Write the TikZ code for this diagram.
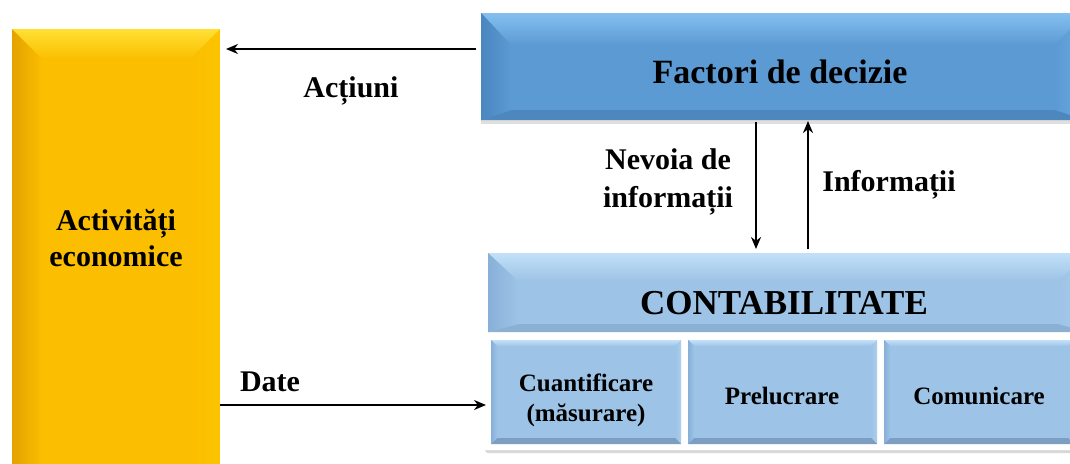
\documentclass[tikz,border=0pt]{standalone}
\usepackage{fontspec}
\setmainfont{Liberation Serif}
\usetikzlibrary{arrows.meta,shadows}
\definecolor{ybase}{HTML}{FBBE00}
\definecolor{ytop}{HTML}{FFE033}
\definecolor{yleft}{HTML}{E4A200}
\definecolor{yright}{HTML}{FCC400}
\definecolor{ybot}{HTML}{F4B400}
\definecolor{bbase}{HTML}{5B9AD2}
\definecolor{btop}{HTML}{84BFF0}
\definecolor{bleft}{HTML}{4A86C0}
\definecolor{bright}{HTML}{6AAAE2}
\definecolor{bbot}{HTML}{4E86BE}
\definecolor{cbase}{HTML}{9DC3E6}
\definecolor{ctop}{HTML}{C2E0F8}
\definecolor{cleft}{HTML}{88B0D8}
\definecolor{cright}{HTML}{AACEEE}
\definecolor{cbot}{HTML}{8CB0D4}
\definecolor{sbot}{HTML}{7C9EC2}
\tikzset{
  bevel/.style n args={8}{
    inner sep=0pt, fill=#4,
    path picture={
      \coordinate (nw) at (path picture bounding box.north west);
      \coordinate (ne) at (path picture bounding box.north east);
      \coordinate (sw) at (path picture bounding box.south west);
      \coordinate (se) at (path picture bounding box.south east);
      \coordinate (inw) at ([xshift=#1,yshift=-#2]nw);
      \coordinate (ine) at ([xshift=-#1,yshift=-#2]ne);
      \coordinate (isw) at ([xshift=#1,yshift=#3]sw);
      \coordinate (ise) at ([xshift=-#1,yshift=#3]se);
      \shade[top color=#5, bottom color=#4] (nw) -- (ne) -- (ine) -- (inw) -- cycle;
      \shade[left color=#6, right color=#4] (nw) -- (inw) -- (isw) -- (sw) -- cycle;
      \shade[left color=#4, right color=#7] (ne) -- (ine) -- (ise) -- (se) -- cycle;
      \fill[#8] (sw) -- (isw) -- (ise) -- (se) -- cycle;
    }},
  lbl/.style={font=\bfseries, align=center, text=black, inner sep=0pt},
  arr/.style={-{Stealth[length=12pt,width=10pt]}, line width=2.5pt, black},
  subbox/.style={bevel={6pt}{6pt}{6pt}{cbase}{ctop}{cleft}{cright}{sbot}, minimum height=104pt, anchor=north west},
  subtxt/.style={lbl, font=\bfseries\fontsize{25}{30}\selectfont},
}
\begin{document}
\begin{tikzpicture}[x=1pt,y=-1pt]
\useasboundingbox (0,0) rectangle (1070,463);
\clip (0,0) rectangle (1070,463);
\fill[white] (0,0) rectangle (1070,463);
% yellow box
\node[bevel={30pt}{30pt}{30pt}{ybase}{ytop}{yleft}{yright}{ybot}, minimum width=208pt, minimum height=470pt, anchor=north west] (act) at (12,29) {};
\node[lbl, font=\bfseries\fontsize{30}{36}\selectfont] (acttxt) at (116,238) {Activități\\economice};
% Factori de decizie
\node[bevel={30pt}{32pt}{10pt}{bbase}{btop}{bleft}{bright}{bbot}, minimum width=604pt, minimum height=107pt, anchor=north west, drop shadow={shadow xshift=0pt, shadow yshift=-4pt, opacity=0.25}] (fd) at (481,13) {};
\node[lbl, font=\bfseries\fontsize{34}{40}\selectfont] (fdtxt) at (780,72) {Factori de decizie};
% CONTABILITATE
\node[bevel={30pt}{28pt}{8pt}{cbase}{ctop}{cleft}{cright}{cbot}, minimum width=600pt, minimum height=79pt, anchor=north west] (cont) at (488,253) {};
\node[lbl, font=\bfseries\fontsize{35}{40}\selectfont] (conttxt) at (784,303) {CONTABILITATE};
% white rim with subboxes
\node[fill=white, rounded corners=3pt, minimum width=600pt, minimum height=117pt, anchor=north west, inner sep=0pt, drop shadow={shadow xshift=2pt, shadow yshift=-3pt, opacity=0.3}] (rim) at (483,333) {};
\node[subbox, minimum width=190pt] (cuant) at (491,340) {};
\node[subbox, minimum width=189pt] (prel) at (688,340) {};
\node[subbox, minimum width=190pt] (com) at (884,340) {};
\node[subtxt] (cuanttxt) at (586,400) {Cuantificare\\(măsurare)};
\node[subtxt] (preltxt) at (782,396) {Prelucrare};
\node[subtxt] (comtxt) at (979,396) {Comunicare};
% connectors
\coordinate (a1) at (476,49);
\coordinate (a2) at (226,49);
\draw[arr] (a1) -- (a2);
\node[lbl, font=\bfseries\fontsize{30}{36}\selectfont] (actiuni) at (351,91) {Acțiuni};
\coordinate (d1) at (756,122);
\coordinate (d2) at (756,249);
\draw[arr] (d1) -- (d2);
\coordinate (u1) at (808,249);
\coordinate (u2) at (808,121);
\draw[arr] (u1) -- (u2);
\node[lbl, font=\bfseries\fontsize{30}{38}\selectfont] (nevoia) at (668,182) {Nevoia de\\informații};
\node[lbl, font=\bfseries\fontsize{30}{36}\selectfont] (info) at (889,185) {Informații};
\coordinate (t1) at (220,405);
\coordinate (t2) at (486,405);
\draw[arr] (t1) -- (t2);
\node[lbl, font=\bfseries\fontsize{30}{36}\selectfont] (date) at (270,382) {Date};
\end{tikzpicture}
\end{document}
